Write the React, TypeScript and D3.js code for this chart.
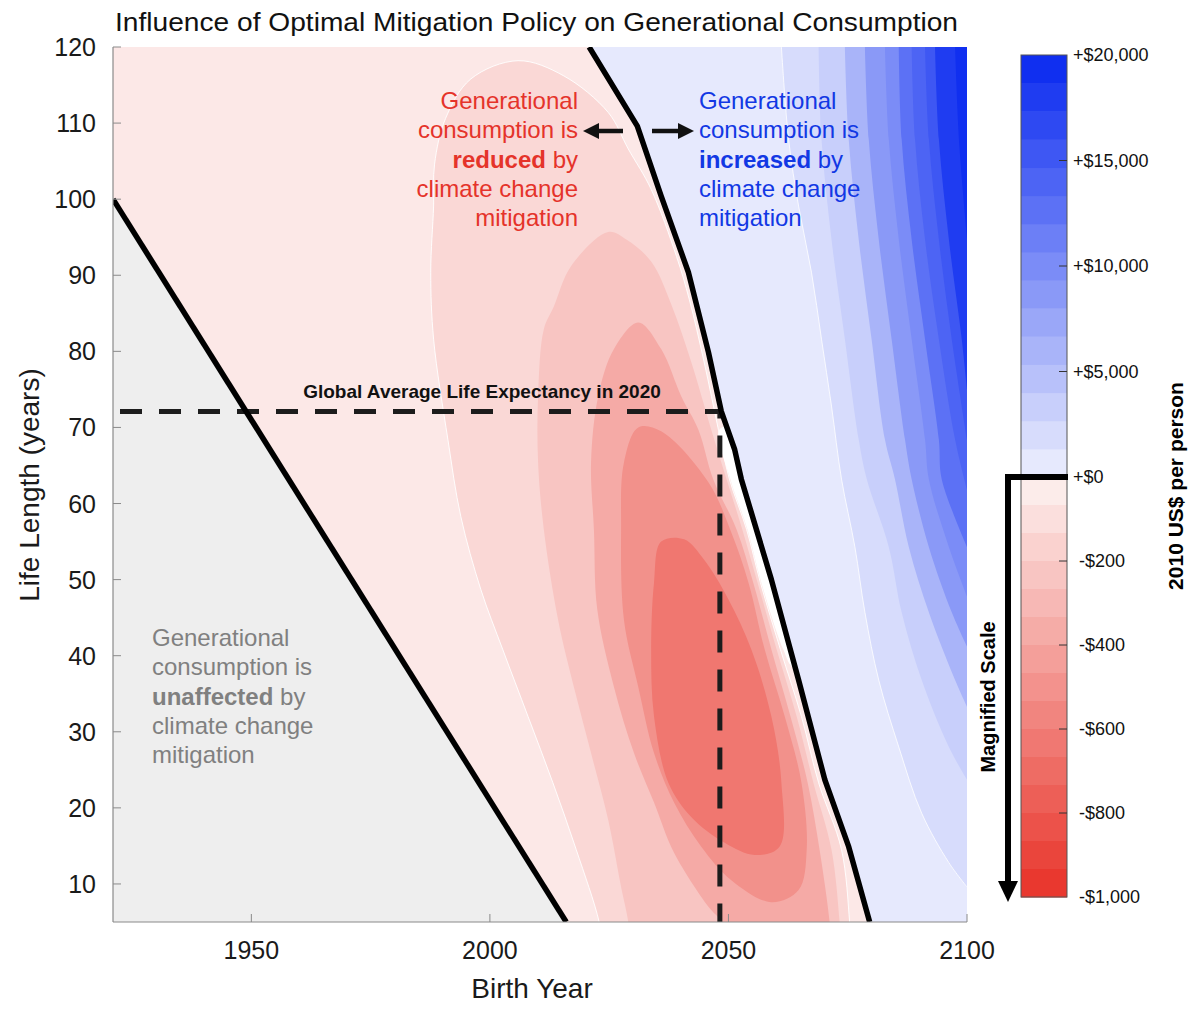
import React from "react";
import * as d3 from "d3";

type Pt = [number, number];

// ---------- axes ----------
const xDomain: Pt = [1921, 2100];
const yDomain: Pt = [5, 120];
const xTicks = [1950, 2000, 2050, 2100];
const yTicks = [10, 20, 30, 40, 50, 60, 70, 80, 90, 100, 110, 120];

// ---------- reference lines ----------
// birth year + life length ~ 2021 : lives ended before mitigation began
const unaffectedLine: Pt[] = [[1921, 100], [2016, 5]];
// zero contour (sign change of consumption effect)
const zeroLine: Pt[] = [
  [2020.8, 120], [2030.9, 109.6], [2035.9, 100.4], [2041.6, 90.4], [2045.8, 79.9],
  [2048.5, 72.1], [2051.3, 67.1], [2052.7, 63.2], [2059.0, 50.0], [2064.7, 36.8],
  [2070.2, 23.7], [2075.2, 14.9], [2079.6, 5],
];
const lifeExpectancy2020 = 72.1;
const lifeExpectancyYear = 2048.2;

// ---------- red (reduced) contour regions, values in 2010 US$ ----------
// (points with life < 5 continue the contour just below the visible axis)
const redBaseValue = -50;
const redContour1: Pt[] = [
  [2023.8, 1], [2022.9, 5], [2018.1, 14.5], [2013.2, 23.3], [2008.0, 32.0], [2002.7, 40.8], [1998.1, 48.7],
  [1993.9, 58.3], [1991.2, 68.4], [1988.2, 81.6], [1987.6, 90.4], [1988.2, 99.1], [1988.4, 104.6],
  [1990.7, 110.6], [1996.0, 115.8], [2005.9, 118.2], [2015.5, 116.2], [2024.8, 111.4], [2029.0, 106.6],
  [2033.8, 101.3], [2039.1, 92.5], [2041.8, 86.8], [2044.9, 78.6], [2047.9, 69.7], [2050.2, 63.2],
  [2053.8, 56.6], [2056.7, 49.6], [2060.9, 40.8], [2065.3, 32.0], [2068.9, 23.3], [2073.7, 14.5],
  [2075.4, 5], [2075.8, 1],
];
const redContour2: Pt[] = [
  [2024.8, 95.7], [2028.6, 94.7], [2033.8, 91.8], [2038.0, 86.2], [2042.2, 78.6], [2046.4, 69.7],
  [2049.6, 63.2], [2052.9, 56.6], [2056.1, 49.6], [2060.1, 40.8], [2064.3, 32.0], [2067.8, 23.3],
  [2071.6, 14.5], [2073.3, 5], [2073.7, 1], [2029.6, 1], [2029.0, 5], [2027.5, 9.6], [2024.8, 18.4], [2021.2, 27.2],
  [2017.6, 35.9], [2014.3, 44.7], [2011.3, 56.6], [2010.1, 65.4], [2010.1, 74.1], [2011.3, 82.9],
  [2013.4, 85.9], [2017.0, 91.2],
];
const redContour3: Pt[] = [
  [2031.1, 83.8], [2035.9, 80.3], [2040.1, 74.1], [2043.7, 69.7], [2046.8, 63.2], [2051.7, 56.6],
  [2055.2, 49.6], [2059.0, 40.8], [2063.0, 32.0], [2066.6, 23.3], [2069.1, 14.5], [2071.2, 5],
  [2071.6, 1], [2049.5, 1], [2048.5, 5], [2045.8, 7.0], [2038.6, 14.1], [2034.4, 20.7], [2030.2, 27.2], [2026.0, 35.9],
  [2022.5, 46.1], [2021.8, 56.6], [2021.2, 65.4], [2022.7, 74.1], [2026.0, 80.3],
];
const redContour4: Pt[] = [
  [2031.1, 70.0], [2035.9, 69.5], [2045.8, 62.8], [2050.6, 56.2], [2054.2, 49.6], [2057.6, 40.8],
  [2061.8, 32.0], [2065.3, 23.3], [2066.4, 14.5], [2064.7, 9.2], [2059.0, 7.6], [2050.6, 10.5],
  [2044.3, 14.9], [2038.6, 20.7], [2034.4, 27.2], [2031.1, 35.9], [2028.1, 44.7], [2027.5, 56.6],
  [2028.1, 65.4],
];
const redContour5: Pt[] = [
  [2035.9, 55.0], [2040.7, 55.3], [2044.9, 52.6], [2050.0, 47.4], [2054.8, 40.8], [2059.0, 32.0],
  [2061.1, 23.3], [2060.7, 14.9], [2055.5, 13.8], [2049.2, 15.4], [2042.2, 18.8], [2037.4, 23.3],
  [2034.4, 32.0], [2033.8, 40.8], [2034.4, 49.6],
];
const redContourValues = [-135, -235, -375, -505, -640];
// thin near-zero gap along the zero line
const nearZeroGap: Pt[] = [
  [2048.1, 69.7], [2050.4, 63.2], [2054.0, 56.6], [2056.9, 49.6], [2061.5, 40.8], [2063.6, 38.4],
  [2067, 38.4], [2062, 50], [2056, 63], [2052, 70],
];

// ---------- blue (increased) contour boundaries, values in 2010 US$ ----------
const blueBaseValue = 667;
const blueContour1: Pt[] = [[2061.1, 120], [2062.6, 107.9], [2064.7, 99.1], [2067.4, 90.4], [2069.5, 81.6], [2071.6, 72.8], [2073.7, 63.2], [2076.5, 54.3], [2078.6, 45.7], [2081.5, 36.8], [2085.7, 28.0], [2090.5, 19.3], [2096.2, 12.8], [2100, 9.6]];
const blueContour2: Pt[] = [[2068.9, 120], [2069.5, 107.9], [2071.6, 94.7], [2074.4, 81.6], [2077.3, 68.4], [2079.0, 63.2], [2083.6, 54.3], [2086.3, 45.7], [2090.5, 36.8], [2096.2, 28.0], [2100, 23.7]];
const blueContour3: Pt[] = [[2074.4, 120], [2075.2, 107.9], [2077.3, 94.7], [2080.0, 81.6], [2082.8, 68.4], [2084.9, 63.2], [2087.8, 54.3], [2092.0, 45.7], [2097.5, 36.8], [2100, 33.3]];
const blueContour4: Pt[] = [[2078.6, 120], [2079.4, 107.9], [2081.5, 94.7], [2084.2, 81.6], [2087.0, 68.4], [2088.4, 63.2], [2092.0, 54.3], [2096.8, 45.7], [2100, 41.2]];
const blueContour5: Pt[] = [[2082.8, 120], [2083.6, 107.9], [2085.7, 94.7], [2088.4, 81.6], [2091.2, 68.4], [2092.0, 63.2], [2096.2, 54.3], [2100, 47.8]];
const blueContour6: Pt[] = [[2085.7, 120], [2086.3, 107.9], [2088.4, 94.7], [2091.2, 81.6], [2094.1, 68.4], [2094.7, 63.2], [2100, 54.3]];
const blueContour7: Pt[] = [[2088.4, 120], [2089.1, 107.9], [2091.2, 94.7], [2094.1, 81.6], [2097.5, 68.4], [2100, 61.8]];
const blueContour8: Pt[] = [[2091.2, 120], [2092.0, 107.9], [2094.1, 94.7], [2096.8, 81.6], [2100, 68.4]];
const blueContour9: Pt[] = [[2093.3, 120], [2094.1, 107.9], [2096.2, 94.7], [2098.9, 81.6], [2100, 75.0]];
const blueContour10: Pt[] = [[2097.5, 120], [2098.3, 107.9], [2100, 94.7]];
const blueContourValues = [2000, 3333, 6000, 8667, 10000, 12667, 14000, 15333, 18000, 19333];

// ---------- colorbar ----------
const blueBarTicks = [0, 5000, 10000, 15000, 20000];
const blueBarLabels = ["+$0", "+$5,000", "+$10,000", "+$15,000", "+$20,000"];
const redBarTicks = [-200, -400, -600, -800, -1000];
const redBarLabels = ["-$200", "-$400", "-$600", "-$800", "-$1,000"];
const barBands = 15;

// ---------- annotation text ----------
const reducedLines = ["Generational", "consumption is", "", "climate change", "mitigation"];
const increasedLines = ["Generational", "consumption is", "", "climate change", "mitigation"];
const unaffectedLines = ["Generational", "consumption is", "", "climate change", "mitigation"];

const W = 1200, H = 1011;
const PL = 113, PR = 967, PT = 47, PB = 922;
const FONT = "'Liberation Sans', Arial, Helvetica, sans-serif";

export default function App() {
  const x = d3.scaleLinear().domain(xDomain).range([PL, PR]);
  const y = d3.scaleLinear().domain(yDomain).range([PB, PT]);
  const line = d3.line<Pt>().x((d) => x(d[0])).y((d) => y(d[1]));
  const smoothClosed = d3.line<Pt>().x((d) => x(d[0])).y((d) => y(d[1])).curve(d3.curveCatmullRomClosed.alpha(0.5));
  const smoothOpen = d3.line<Pt>().x((d) => x(d[0])).y((d) => y(d[1])).curve(d3.curveCatmullRom.alpha(0.5));
  const poly = (pts: Pt[]) => (line(pts) || "") + "Z";

  const redColor = d3.scaleLinear<string>().domain([0, -1000]).range(["#fdf2f1", "#e83228"]).interpolate(d3.interpolateRgb);
  const blueColor = d3.scaleLinear<string>().domain([0, 20000]).range(["#eef0fd", "#0828f0"]).interpolate(d3.interpolateRgb);

  const redContours = [redContour1, redContour2, redContour3, redContour4, redContour5];
  const blueContours = [blueContour1, blueContour2, blueContour3, blueContour4, blueContour5, blueContour6, blueContour7, blueContour8, blueContour9, blueContour10];

  const redRegion: Pt[] = [[xDomain[0], yDomain[1]], ...zeroLine, [xDomain[0], yDomain[0]]];
  const grayRegion: Pt[] = [...unaffectedLine, [xDomain[0], yDomain[0]]];
  const blueRegion: Pt[] = [...zeroLine, [xDomain[1], yDomain[0]], [xDomain[1], yDomain[1]]];
  const bluePath = (c: Pt[]) => (smoothOpen(c) || "") + `L${x(xDomain[1]) + 2},${y(c[c.length - 1][1])}L${x(xDomain[1]) + 2},${y(yDomain[1]) - 2}L${x(c[0][0])},${y(yDomain[1]) - 2}Z`;

  const dashPath = line([[xDomain[0], lifeExpectancy2020], [lifeExpectancyYear, lifeExpectancy2020], [lifeExpectancyYear, yDomain[0]]]) || "";

  // colorbar
  const barX = 1021, barW = 46;
  const blueBar = d3.scaleLinear().domain([0, 20000]).range([477, 55]);
  const redBar = d3.scaleLinear().domain([0, -1000]).range([477, 897]);
  const blueStep = 20000 / barBands, redStep = -1000 / barBands;

  const textLines = (lines: string[], bold: string, x0: number, y0: number, anchor: string, color: string) =>
    lines.map((l, i) => (
      <text key={i} x={x0} y={y0 + i * 29.3} textAnchor={anchor} fill={color} fontSize={24} fontFamily={FONT}>
        {i === 2 ? (
          <>
            <tspan fontWeight="bold">{bold}</tspan>
            <tspan> by</tspan>
          </>
        ) : l}
      </text>
    ));

  return (
    <svg width={W} height={H} style={{ position: "absolute", left: 0, top: 0, display: "block", background: "#fff" }}>
      <defs>
        <clipPath id="plotClip">
          <rect x={PL} y={PT} width={PR - PL} height={PB - PT} />
        </clipPath>
      </defs>
      <rect x={0} y={0} width={W} height={H} fill="#fff" />

      <g clipPath="url(#plotClip)">
        <path d={poly(redRegion)} fill={redColor(redBaseValue)} />
        <path d={poly(grayRegion)} fill="#eeeeee" />
        {redContours.map((c, i) => (
          <path key={i} d={smoothClosed(c) || ""} fill={redColor(redContourValues[i])}
            stroke={i === 0 ? "#ffffff" : "none"} strokeWidth={i === 0 ? 1 : 0} strokeOpacity={0.9} />
        ))}
        <path d={smoothClosed(nearZeroGap) || ""} fill="#ffffff" />
        <path d={poly(blueRegion)} fill={blueColor(blueBaseValue)} />
        {blueContours.map((c, i) => (
          <path key={i} d={bluePath(c)} fill={blueColor(blueContourValues[i])}
            stroke={i === 0 ? "#ffffff" : "none"} strokeWidth={i === 0 ? 1 : 0} strokeOpacity={0.8} />
        ))}
        <path d={dashPath} fill="none" stroke="#1c1c1c" strokeWidth={5} strokeDasharray="22 17" strokeDashoffset={32} />
        <path d={line(zeroLine) || ""} fill="none" stroke="#000" strokeWidth={5.5} strokeLinejoin="round" />
        <path d={line(unaffectedLine) || ""} fill="none" stroke="#000" strokeWidth={5.5} />
      </g>

      {/* axes */}
      <line x1={PL} y1={PT} x2={PL} y2={PB} stroke="#8a8a8a" strokeWidth={1.2} />
      <line x1={PL} y1={PB} x2={PR} y2={PB} stroke="#8a8a8a" strokeWidth={1.2} />
      {yTicks.map((t) => (
        <g key={t}>
          <line x1={PL} x2={PL + 8} y1={y(t)} y2={y(t)} stroke="#8a8a8a" strokeWidth={1} />
          <text x={96} y={y(t)} dy="0.36em" textAnchor="end" fontSize={25} fontFamily={FONT} fill="#1a1a1a">{t}</text>
        </g>
      ))}
      {xTicks.map((t) => (
        <g key={t}>
          <line x1={x(t)} x2={x(t)} y1={PB} y2={PB - 8} stroke="#8a8a8a" strokeWidth={1} />
          <text x={x(t)} y={959} textAnchor="middle" fontSize={25} fontFamily={FONT} fill="#1a1a1a">{t}</text>
        </g>
      ))}
      <text x={532} y={998} textAnchor="middle" fontSize={28} fontFamily={FONT} fill="#1a1a1a">Birth Year</text>
      <text transform="translate(39,485) rotate(-90)" textAnchor="middle" fontSize={28} fontFamily={FONT} fill="#1a1a1a">Life Length (years)</text>
      <text x={115} y={31} fontSize={25} fontFamily={FONT} fill="#111" textLength={843} lengthAdjust="spacingAndGlyphs">
        Influence of Optimal Mitigation Policy on Generational Consumption
      </text>

      {/* annotations */}
      {textLines(reducedLines, "reduced", 578, 109, "end", "#e5332a")}
      {textLines(increasedLines, "increased", 699, 109, "start", "#1238e4")}
      {textLines(unaffectedLines, "unaffected", 152, 646, "start", "#808080")}
      <text x={482} y={398} textAnchor="middle" fontSize={19} fontWeight="bold" fontFamily={FONT} fill="#111">
        Global Average Life Expectancy in 2020
      </text>
      {/* arrows */}
      <line x1={623} x2={594} y1={131} y2={131} stroke="#111" strokeWidth={4.5} />
      <path d="M583,131 L599,123 L599,139 Z" fill="#111" />
      <line x1={652} x2={681} y1={131} y2={131} stroke="#111" strokeWidth={4.5} />
      <path d="M694,131 L678,123 L678,139 Z" fill="#111" />

      {/* colorbar */}
      {d3.range(barBands).map((k) => (
        <rect key={"b" + k} x={barX} width={barW} y={blueBar((k + 1) * blueStep)} height={blueBar(k * blueStep) - blueBar((k + 1) * blueStep) + 0.5} fill={blueColor((k + 0.5) * blueStep)} />
      ))}
      {d3.range(barBands).map((k) => (
        <rect key={"r" + k} x={barX} width={barW} y={redBar(k * redStep)} height={redBar((k + 1) * redStep) - redBar(k * redStep) + 0.5} fill={redColor((k + 0.5) * redStep)} />
      ))}
      <rect x={barX} y={blueBar(20000)} width={barW} height={redBar(-1000) - blueBar(20000)} fill="none" stroke="#555" strokeWidth={1} />
      {blueBarTicks.map((t, i) => (
        <g key={"bt" + t}>
          {t !== 0 && t !== 20000 && <line x1={barX + barW - 8} x2={barX + barW} y1={blueBar(t)} y2={blueBar(t)} stroke="#333" strokeWidth={1} />}
          <text x={1073} y={blueBar(t)} dy="0.36em" fontSize={18} fontFamily={FONT} fill="#111">{blueBarLabels[i]}</text>
        </g>
      ))}
      {redBarTicks.map((t, i) => (
        <g key={"rt" + t}>
          {t !== -1000 && <line x1={barX + barW - 8} x2={barX + barW} y1={redBar(t)} y2={redBar(t)} stroke="#333" strokeWidth={1} />}
          <text x={1079} y={redBar(t)} dy="0.36em" fontSize={18} fontFamily={FONT} fill="#111">{redBarLabels[i]}</text>
        </g>
      ))}
      {/* magnified scale marker */}
      <path d={`M1068,477 L1008,477 L1008,884`} fill="none" stroke="#000" strokeWidth={6} />
      <path d="M998,881 L1018,881 L1008,902 Z" fill="#000" />
      <text transform="translate(995,697) rotate(-90)" textAnchor="middle" fontSize={20} fontWeight="bold" fontFamily={FONT} fill="#000">
        Magnified Scale
      </text>
      <text transform="translate(1183,486) rotate(-90)" textAnchor="middle" fontSize={21} fontWeight="bold" fontFamily={FONT} fill="#000">
        2010 US$ per person
      </text>
    </svg>
  );
}
